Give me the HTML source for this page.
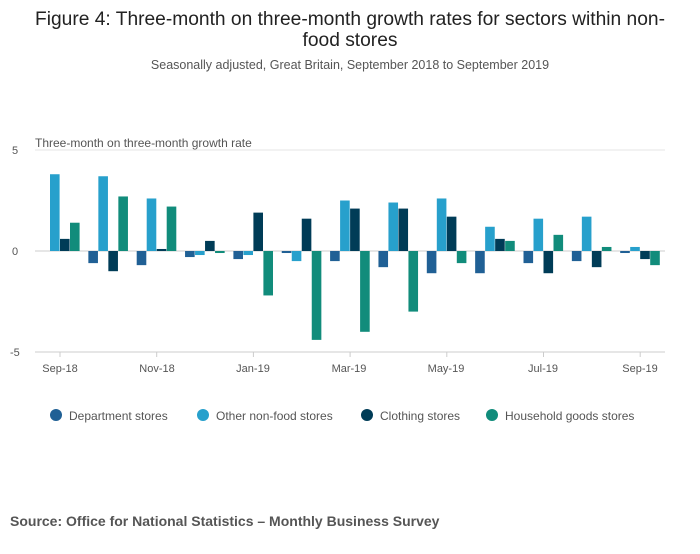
<!DOCTYPE html>
<html><head><meta charset="utf-8"><style>
body{margin:0;background:#fff;font-family:"Liberation Sans",sans-serif;}
</style></head><body>
<svg width="700" height="549" xmlns="http://www.w3.org/2000/svg" font-family="Liberation Sans, sans-serif">
<text x="350" y="25" text-anchor="middle" font-size="19.2" fill="#222">Figure 4: Three-month on three-month growth rates for sectors within non-</text>
<text x="350" y="46" text-anchor="middle" font-size="19.2" fill="#222">food stores</text>
<text x="350" y="69" text-anchor="middle" font-size="12.5" fill="#555">Seasonally adjusted, Great Britain, September 2018 to September 2019</text>
<text x="35" y="147" font-size="12" fill="#555">Three-month on three-month growth rate</text>
<line x1="35" x2="665" y1="150" y2="150" stroke="#e6e6e6"/>
<line x1="35" x2="665" y1="251" y2="251" stroke="#ccc"/>
<line x1="35" x2="665" y1="352" y2="352" stroke="#ccc"/>
<text x="12" y="154" font-size="11" fill="#555">5</text>
<text x="12" y="255" font-size="11" fill="#555">0</text>
<text x="10" y="356" font-size="11" fill="#555">-5</text>
<g id="bars"></g>
<g font-size="11" fill="#555" text-anchor="middle">
<text x="60" y="372">Sep-18</text><text x="157" y="372">Nov-18</text><text x="253" y="372">Jan-19</text><text x="349" y="372">Mar-19</text><text x="446" y="372">May-19</text><text x="543" y="372">Jul-19</text><text x="640" y="372">Sep-19</text>
</g>
<g font-size="12" fill="#555">
<circle cx="56" cy="415" r="6" fill="#206095"/><text x="69" y="420">Department stores</text>
<circle cx="203" cy="415" r="6" fill="#27a0cc"/><text x="216" y="420">Other non-food stores</text>
<circle cx="367" cy="415" r="6" fill="#003c57"/><text x="380" y="420">Clothing stores</text>
<circle cx="492" cy="415" r="6" fill="#118c7b"/><text x="505" y="420">Household goods stores</text>
</g>
<text x="10" y="526" font-size="14" font-weight="bold" fill="#555">Source: Office for National Statistics – Monthly Business Survey</text>
</svg>
<script>
var d=[[0,3.8,0.6,1.4],[-0.6,3.7,-1.0,2.7],[-0.7,2.6,0.1,2.2],[-0.3,-0.2,0.5,-0.1],[-0.4,-0.2,1.9,-2.2],[-0.1,-0.5,1.6,-4.4],[-0.5,2.5,2.1,-4.0],[-0.8,2.4,2.1,-3.0],[-1.1,2.6,1.7,-0.6],[-1.1,1.2,0.6,0.5],[-0.6,1.6,-1.1,0.8],[-0.5,1.7,-0.8,0.2],[-0.1,0.2,-0.4,-0.7]];
var c=["#206095","#27a0cc","#003c57","#118c7b"],g=document.getElementById("bars"),s="";
d.forEach(function(r,i){var cx=60+i*48.35;r.forEach(function(v,j){var x=cx-20+j*10,h=Math.abs(v)*20.2,y=v>=0?251-h:251;s+='<rect x="'+x+'" y="'+y+'" width="9.6" height="'+h+'" fill="'+c[j]+'"/>';});
if(i%2==0)s+='<line x1="'+cx+'" x2="'+cx+'" y1="352" y2="357" stroke="#ccc"/>';});
g.innerHTML=s;
</script>
</body></html>
